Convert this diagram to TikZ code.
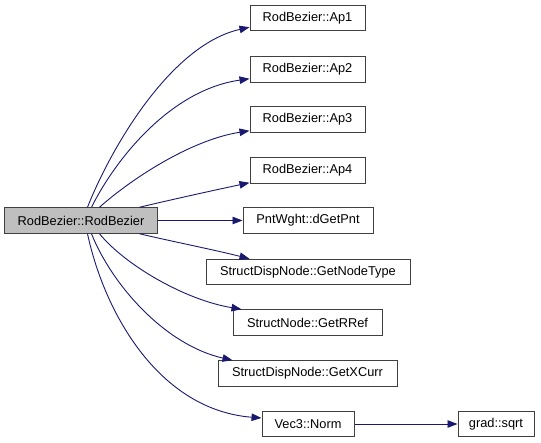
\documentclass[tikz,border=0pt]{standalone}
\usepackage{fontspec}
\setmainfont{Liberation Sans}
\usetikzlibrary{arrows.meta}
\definecolor{edgeblue}{RGB}{25,25,112}
\definecolor{boxgray}{RGB}{191,191,191}
\definecolor{boxline}{RGB}{64,64,64}
\begin{document}
\begin{tikzpicture}[x=1bp,y=-1bp,
  fn/.style={draw=boxline,line width=1bp,fill=white,inner sep=0pt,minimum height=25.5bp,
    font=\fontsize{12.8bp}{14bp}\selectfont,anchor=center},
  edge/.style={draw=edgeblue,line width=0.9bp,-{Triangle[length=10bp,width=7.5bp]}},
  ]
\useasboundingbox (0,0) rectangle (541,443);
\node[fn,fill=boxgray,minimum width=152bp] (main) at (81,220.5) {RodBezier::RodBezier};
\node[fn,minimum width=115bp] (ap1) at (307.5,18) {RodBezier::Ap1};
\node[fn,minimum width=115bp] (ap2) at (307.5,69.5) {RodBezier::Ap2};
\node[fn,minimum width=115bp] (ap3) at (307.5,119.5) {RodBezier::Ap3};
\node[fn,minimum width=115bp] (ap4) at (307.5,170.5) {RodBezier::Ap4};
\node[fn,minimum width=130bp] (pnt) at (308,220.5) {PntWght::dGetPnt};
\node[fn,minimum width=204bp] (ntype) at (308,272) {StructDispNode::GetNodeType};
\node[fn,minimum width=149bp] (rref) at (307.5,322.5) {StructNode::GetRRef};
\node[fn,minimum width=179bp] (xcurr) at (307.5,373.5) {StructDispNode::GetXCurr};
\node[fn,minimum width=92bp] (norm) at (308,424) {Vec3::Norm};
\node[fn,minimum width=76bp] (sqrt) at (496,424) {grad::sqrt};

\draw[edge] ([xshift=83bp]main.north west) .. controls (110,150) and (170,45) .. ([yshift=4bp]ap1.south west);
\draw[edge] ([xshift=87bp]main.north west) .. controls (115,160) and (170,90) .. ([yshift=4bp]ap2.south west);
\draw[edge] ([xshift=95bp]main.north west) .. controls (130,180) and (190,140) .. ([yshift=2bp]ap3.south west);
\draw[edge] ([xshift=135bp]main.north west) .. controls (170,200) and (215,190) .. ([yshift=1bp]ap4.south west);
\draw[edge] (main.east) -- (pnt.west);
\draw[edge] ([xshift=135bp]main.south west) .. controls (170,241) and (215,250) .. ([xshift=44bp]ntype.north west);
\draw[edge] ([xshift=95bp]main.south west) .. controls (125,265) and (185,300) .. ([xshift=9bp]rref.north west);
\draw[edge] ([xshift=87bp]main.south west) .. controls (112,285) and (165,345) .. ([xshift=15bp]xcurr.north west);
\draw[edge] ([xshift=83bp]main.south west) .. controls (105,315) and (160,410) .. ([yshift=6bp]norm.west);
\draw[edge] (norm.east) -- (sqrt.west);
\end{tikzpicture}
\end{document}
